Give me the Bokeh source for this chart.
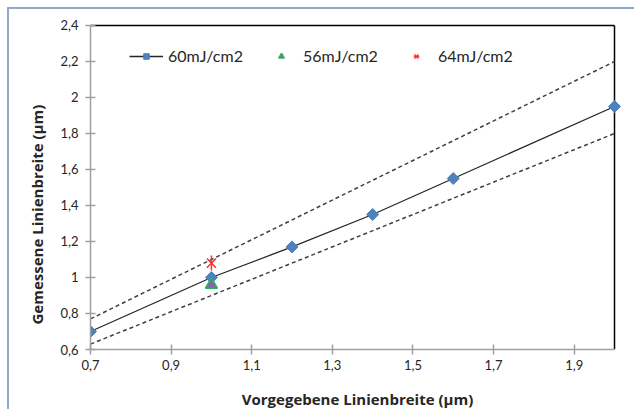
import math
from bokeh.plotting import figure
from bokeh.models import FixedTicker, Legend, LegendItem, Title, Range1d
from bokeh.embed import file_html
from bokeh.resources import INLINE

# data
x_60 = [0.7, 1.0, 1.2, 1.4, 1.6, 2.0]
y_60 = [0.70, 1.00, 1.17, 1.35, 1.55, 1.95]
x_56 = [1.0]
y_56 = [0.96]
x_64 = [1.0]
y_64 = [1.08]
tol_x = [0.7, 2.0]
tol_upper = [0.77, 2.2]
tol_lower = [0.63, 1.8]
x_ticks = [0.7, 0.9, 1.1, 1.3, 1.5, 1.7, 1.9]
x_tick_labels = ["0,7", "0,9", "1,1", "1,3", "1,5", "1,7", "1,9"]
y_ticks = [0.6, 0.8, 1.0, 1.2, 1.4, 1.6, 1.8, 2.0, 2.2, 2.4]
y_tick_labels = ["0,6", "0,8", "1", "1,2", "1,4", "1,6", "1,8", "2", "2,2", "2,4"]
x_min, x_max = 0.7, 2.0
y_min, y_max = 0.6, 2.4
series_names = ["60mJ/cm2", "56mJ/cm2", "64mJ/cm2"]

FONT = "Lato"
LFONT = "Open Sans"
TXT = "#262626"
AX = "#a0a0a0"

# small extra room right/top so edge markers are not clipped
px_x = (614 - 90) / (x_max - x_min)
px_y = (351 - 26) / (y_max - y_min)
pad_r = 10
pad_t = 4

p = figure(width=627, height=402, output_backend="svg", toolbar_location=None,
           x_range=Range1d(x_min, x_max + pad_r / px_x),
           y_range=Range1d(y_min, y_max + pad_t / px_y),
           min_border_left=81, min_border_right=22 - pad_r, min_border_top=16 - pad_t,
           min_border_bottom=61, margin=(7, 0, 0, 7))
p.styles = {"border-left": "2px solid #8eaac9", "border-top": "2px solid #8eaac9"}
p.outline_line_color = None
p.xgrid.visible = False
p.ygrid.visible = False
p.background_fill_color = "white"
p.border_fill_color = "white"

# frame top/right black lines
p.segment(x0=[x_min, x_max], y0=[y_max, y_min], x1=[x_max, x_max], y1=[y_max, y_max],
          line_color="black", line_width=1.5)

# tolerance lines
p.line(tol_x, tol_upper, line_color="#404040", line_width=1.5, line_dash="4 3")
p.line(tol_x, tol_lower, line_color="#404040", line_width=1.5, line_dash="4 3")

r_line = p.line(x_60, y_60, line_color="#262626", line_width=1.3)
r_dia = p.scatter(x_60, y_60, marker="square", angle=math.pi / 4, size=8.5,
                  fill_color="#4f81bd", line_color="#4f81bd")
r_tri = p.scatter(x_56, y_56, marker="triangle", size=12, fill_color="#7f6aa6",
                  line_color="#2fb05a", line_width=1.5)
r_x = p.scatter(x_64, y_64, marker="x", size=13, line_color="#ff3030", line_width=1.5)
r_d = p.scatter(x_64, y_64, marker="dash", angle=math.pi / 2, size=15, line_color="#ff3030", line_width=1.5)

legend = Legend(items=[
    LegendItem(label=series_names[0], renderers=[r_line, r_dia]),
    LegendItem(label=series_names[1], renderers=[r_tri]),
    LegendItem(label=series_names[2], renderers=[r_x, r_d]),
], orientation="horizontal", location=(39, 280 + pad_t))
legend.margin = 0
legend.padding = 0
legend.border_line_color = None
legend.background_fill_alpha = 0
legend.glyph_width = 34
legend.glyph_height = 14
legend.label_standoff = 5
legend.spacing = 21
legend.label_text_font = FONT
legend.label_text_font_size = "16px"
legend.label_text_color = TXT
p.add_layout(legend, "center")

# axes
for ax in (p.xaxis[0], p.yaxis[0]):
    ax.axis_line_color = AX
    ax.axis_line_width = 1.5
    ax.major_tick_line_color = AX
    ax.major_tick_line_width = 1.5
    ax.major_tick_in = 5
    ax.major_tick_out = 5
    ax.minor_tick_line_color = None
    ax.major_label_text_font = FONT
    ax.major_label_text_font_size = "13px"
    ax.major_label_text_color = TXT

p.xaxis.bounds = (x_min, x_max)
p.yaxis.bounds = (y_min, y_max)
p.xaxis.ticker = FixedTicker(ticks=x_ticks)
p.xaxis.major_label_overrides = {t: l for t, l in zip(x_ticks, x_tick_labels)}
p.yaxis.ticker = FixedTicker(ticks=y_ticks)
p.yaxis.major_label_overrides = {t: l for t, l in zip(y_ticks, y_tick_labels)}
p.xaxis.major_label_standoff = 5
p.yaxis.major_label_standoff = 7

p.xaxis.axis_label = "Vorgegebene Linienbreite (µm)"
p.xaxis.axis_label_text_font = LFONT
p.xaxis.axis_label_text_font_size = "15px"
p.xaxis.axis_label_text_font_style = "bold"
p.xaxis.axis_label_text_color = TXT
p.xaxis.axis_label_standoff = 16

ytitle = Title(text="Gemessene Linienbreite (µm)", align="left", offset=25,
               text_font=LFONT, text_font_size="15px", text_font_style="bold",
               text_color=TXT, standoff=21)
p.add_layout(ytitle, "left")

open("out.html", "w").write(file_html(p, INLINE))
